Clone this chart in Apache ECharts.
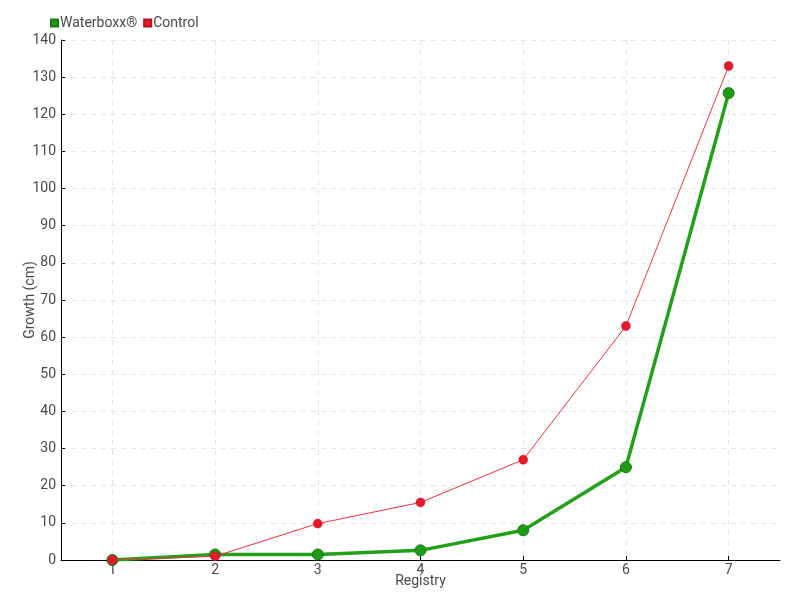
<!DOCTYPE html>
<html><head><meta charset="utf-8">
<script src="https://cdn.jsdelivr.net/npm/echarts@6/dist/echarts.min.js"></script>
<style>html,body{margin:0;padding:0;background:#fff}#c{width:800px;height:600px}</style>
</head><body><div id="c"></div>
<script>
var registry = [1, 2, 3, 4, 5, 6, 7];
var waterboxx = [0, 1.5, 1.5, 2.6, 8, 25, 125.7];
var control = [0, 1, 9.8, 15.5, 27, 63, 133];
var yTicks = [0, 10, 20, 30, 40, 50, 60, 70, 80, 90, 100, 110, 120, 130, 140];

var font = 'Roboto, "Liberation Sans", sans-serif';
var txt = '#4a4a4a';
function pairs(v){ return registry.map(function(r,i){ return [r, v[i]]; }); }
var chart = echarts.init(document.getElementById('c'));
chart.setOption({
  animation: false,
  textStyle: {fontFamily: font},
  legend: {
    left: 45, top: 11, itemWidth: 7, itemHeight: 7, itemGap: 6,
    icon: 'rect',
    textStyle: {fontFamily: font, fontSize: 14, color: txt, padding: [0,0,0,-3]},
    data: ['Waterboxx®', 'Control']
  },
  grid: {left: 61, right: 20, top: 40, bottom: 40, outerBoundsMode: 'none', containLabel: false},
  xAxis: {
    type: 'value', min: 0.5, max: 7.5,
    name: 'Registry', nameLocation: 'middle', nameGap: 14, nameMoveOverlap: false,
    nameTextStyle: {fontFamily: font, fontSize: 14, color: txt},
    axisLine: {lineStyle: {color: '#000'}},
    axisTick: {inside: true, length: 4, lineStyle: {color: '#000'}, customValues: registry},
    axisLabel: {fontFamily: font, fontSize: 14, color: txt, margin: 3, customValues: registry},
    splitLine: {show: true, lineStyle: {type: [5,5], color: '#e4e4e4'}}
  },
  yAxis: {
    type: 'value', min: 0, max: 140, interval: 10,
    name: 'Growth (cm)', nameLocation: 'middle', nameGap: 24, nameMoveOverlap: false,
    nameTextStyle: {fontFamily: font, fontSize: 14, color: txt},
    axisLine: {show: true, lineStyle: {color: '#000'}},
    axisTick: {show: true, inside: true, length: 4, lineStyle: {color: '#000'}},
    axisLabel: {fontFamily: font, fontSize: 14, color: txt, margin: 5,
      formatter: function(v){ return yTicks.indexOf(v) >= 0 ? String(v) : ''; }},
    splitLine: {show: true, lineStyle: {type: [5,5], color: '#e4e4e4'}}
  },
  series: [
    {
      name: 'Waterboxx®', type: 'line', data: pairs(waterboxx),
      color: '#1f9a15',
      lineStyle: {width: 3.5, color: '#22a018'},
      symbol: 'circle', symbolSize: 11,
      itemStyle: {color: '#1f9a15', borderColor: '#157a10', borderWidth: 1},
      z: 2
    },
    {
      name: 'Control', type: 'line', data: pairs(control),
      color: '#e8182a',
      lineStyle: {width: 1, color: '#f0303e'},
      symbol: 'circle', symbolSize: 9,
      itemStyle: {color: '#e8182a', borderColor: '#c01020', borderWidth: 0.5},
      z: 3
    }
  ]
});
</script></body></html>
